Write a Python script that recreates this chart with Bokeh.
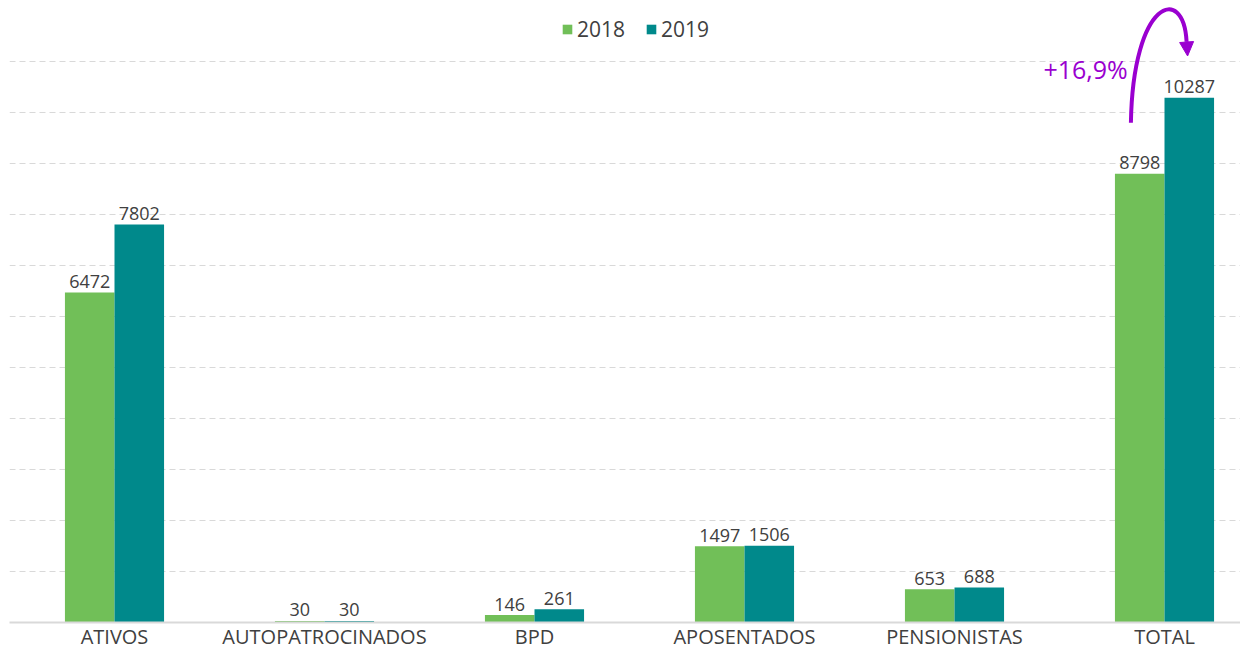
from bokeh.plotting import figure
from bokeh.models import (Range1d, FixedTicker, Grid, LinearAxis, ColumnDataSource,
                          Legend, LegendItem, Arrow, NormalHead, Label)
from bokeh.core.properties import value
from bokeh.embed import file_html
from bokeh.resources import INLINE

categories = ["ATIVOS", "AUTOPATROCINADOS", "BPD", "APOSENTADOS", "PENSIONISTAS", "TOTAL"]
values_2018 = [6472, 30, 146, 1497, 653, 8798]
values_2019 = [7802, 30, 261, 1506, 688, 10287]
series_names = ["2018", "2019"]
grid_ticks = [1000 * k for k in range(1, 12)]
growth_label = "+16,9%"

GREEN = "#71BF58"
TEAL = "#00898B"
PURPLE = "#9A00D0"
TEXT = "#404040"
FONT = "Open Sans"

W, H = 1240, 652
frame_left, frame_top, frame_bottom = 9, 0, 30
cat_px = 210.0
frame_w = W - frame_left
frame_h = H - frame_top - frame_bottom
px_per_unit = (frame_h - 61) / 11000.0
x_range = Range1d(-0.5, -0.5 + frame_w / cat_px)
y_range = Range1d(0, frame_h / px_per_unit)

p = figure(width=W, height=H, x_range=x_range, y_range=y_range,
           output_backend="svg", toolbar_location=None,
           x_axis_location=None, y_axis_location=None,
           min_border_left=frame_left, min_border_right=0,
           min_border_top=frame_top, min_border_bottom=frame_bottom)
p.outline_line_color = None
p.background_fill_color = "white"
p.border_fill_color = "white"
for g in p.grid:
    g.visible = False

grid = Grid(dimension=1, ticker=FixedTicker(ticks=grid_ticks),
            grid_line_color="#D9D9D9", grid_line_dash="6 4", grid_line_width=1)
p.add_layout(grid)

xs = list(range(len(categories)))
off = 0.118
bw = 0.236
src = ColumnDataSource(dict(
    x18=[x - off for x in xs], x19=[x + off for x in xs],
    v18=values_2018, v19=values_2019,
    t18=[str(v) for v in values_2018], t19=[str(v) for v in values_2019]))

r18 = p.vbar(x="x18", top="v18", width=bw, bottom=0, source=src,
             fill_color=GREEN, line_color=None)
r19 = p.vbar(x="x19", top="v19", width=bw, bottom=0, source=src,
             fill_color=TEAL, line_color=None)

for xk, vk, tk in (("x18", "v18", "t18"), ("x19", "v19", "t19")):
    p.text(x=xk, y=vk, text=tk, source=src, text_align="center",
           text_baseline="alphabetic", y_offset=-11,
           text_font=value(FONT), text_font_size="18px", text_color=TEXT)

xaxis = LinearAxis(ticker=FixedTicker(ticks=xs),
                   major_label_overrides={i: c for i, c in enumerate(categories)})
xaxis.axis_line_color = "#D9D9D9"
xaxis.axis_line_width = 2
xaxis.major_tick_line_color = None
xaxis.minor_tick_line_color = None
xaxis.major_tick_out = 0
xaxis.major_tick_in = 0
xaxis.major_label_standoff = 0
xaxis.major_label_text_font = FONT
xaxis.major_label_text_font_size = "20px"
xaxis.major_label_text_color = TEXT
p.add_layout(xaxis, "below")

legend = Legend(items=[LegendItem(label=series_names[0], renderers=[r18]),
                       LegendItem(label=series_names[1], renderers=[r19])],
                orientation="horizontal", location=(552, frame_h - 43),
                glyph_width=12, glyph_height=12, label_standoff=4, spacing=20,
                label_text_font=FONT, label_text_font_size="21px",
                label_text_color=TEXT, border_line_color=None,
                background_fill_alpha=0, margin=0, padding=4)
p.add_layout(legend)

# growth annotation (derived from TOTAL group position)
tx = xs[-1]
y0 = values_2018[-1] + 1000
p.bezier(x0=[tx - 0.16], y0=[y0], x1=[tx + 0.105], y1=[y0 + 1600],
         cx0=[tx - 0.15], cy0=[y0 + 2420], cx1=[tx + 0.09], cy1=[y0 + 2720],
         line_color=PURPLE, line_width=4)
p.add_layout(Arrow(end=NormalHead(size=14, fill_color=PURPLE, line_color=PURPLE),
                   x_start=tx + 0.105, y_start=y0 + 1600,
                   x_end=tx + 0.11, y_end=y0 + 1310,
                   line_color=PURPLE, line_width=4))
p.add_layout(Label(x=tx - 0.175, y=y0 + 1050, text=growth_label,
                   text_align="right", text_baseline="alphabetic",
                   text_font=FONT, text_font_size="25px", text_color=PURPLE))

open("out.html", "w").write(file_html(p, INLINE))
